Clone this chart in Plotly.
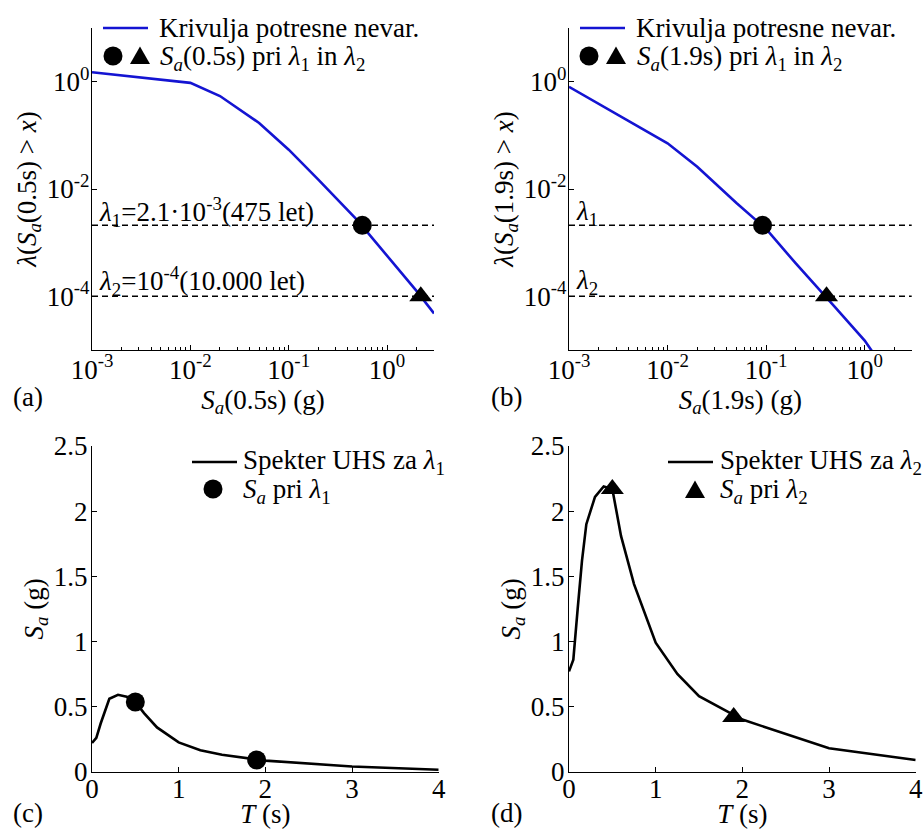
import plotly.graph_objects as go

W, H = 923, 829
FONT = "Liberation Serif"
FS = 27
BLUE = "#1414d2"

# ---------------- data ----------------
# (a) hazard curve for Sa(0.5s)
haz_a_sa = [0.001, 0.01, 0.02, 0.05, 0.1, 0.2, 0.5, 1.0, 2.0, 3.0]
haz_a_lam = [1.5, 0.95, 0.54, 0.17, 0.054, 0.015, 2.6e-3, 5.7e-4, 1.25e-4, 4.8e-5]
pts_a_sa = [0.56, 2.2]
# (b) hazard curve for Sa(1.9s)
haz_b_sa = [0.001, 0.01, 0.02, 0.05, 0.1, 0.2, 0.5, 1.0, 1.5]
haz_b_lam = [0.8, 0.071, 0.026, 5.5e-3, 1.8e-3, 4.1e-4, 6.3e-5, 1.5e-5, 5.1e-6]
pts_b_sa = [0.092, 0.41]
# hazard levels
lam_levels = [2.1e-3, 1e-4]
# (c), (d) uniform hazard spectra
T = [0, 0.05, 0.1, 0.15, 0.2, 0.3, 0.4, 0.5, 0.6, 0.75, 1.0, 1.25, 1.5, 2.0, 3.0, 4.0]
uhs_1 = [0.22, 0.26, 0.37, 0.47, 0.56, 0.59, 0.575, 0.535, 0.45, 0.34, 0.225, 0.165, 0.13, 0.085, 0.04, 0.015]
uhs_2 = [0.77, 0.86, 1.25, 1.62, 1.9, 2.11, 2.19, 2.17, 1.81, 1.44, 0.99, 0.75, 0.58, 0.40, 0.18, 0.09]
pts_T = [0.5, 1.9]
pts_c_sa = [0.535, 0.09]
pts_d_sa = [2.17, 0.42]

log_xticks = [1e-3, 1e-2, 1e-1, 1]
log_xtext = ["10<sup>-3</sup>", "10<sup>-2</sup>", "10<sup>-1</sup>", "10<sup>0</sup>"]
log_xminor = [m * d for d in (1e-3, 1e-2, 1e-1, 1) for m in range(2, 10)]
log_yticks = [1e-4, 1e-2, 1]
log_ytext = ["10<sup>-4</sup>", "10<sup>-2</sup>", "10<sup>0</sup>"]
lin_xticks = [0, 1, 2, 3, 4]
lin_yticks = [0, 0.5, 1, 1.5, 2, 2.5]
lin_ytext = ["0", "0.5", "1", "1.5", "2", "2.5"]


def px(x):
    return x / W


def py(y):
    return 1 - y / H


fig = go.Figure()

# (a)
fig.add_trace(go.Scatter(x=haz_a_sa, y=haz_a_lam, mode="lines", line=dict(color=BLUE, width=2.6),
                         xaxis="x", yaxis="y", showlegend=False))
fig.add_trace(go.Scatter(x=pts_a_sa[:1], y=lam_levels[:1], mode="markers",
                         marker=dict(symbol="circle", size=19, color="black"),
                         xaxis="x", yaxis="y", showlegend=False, cliponaxis=False))
fig.add_trace(go.Scatter(x=pts_a_sa[1:], y=lam_levels[1:], mode="markers",
                         marker=dict(symbol="triangle-up", size=20, color="black"),
                         xaxis="x", yaxis="y", showlegend=False, cliponaxis=False))
# (b)
fig.add_trace(go.Scatter(x=haz_b_sa, y=haz_b_lam, mode="lines", line=dict(color=BLUE, width=2.6),
                         xaxis="x2", yaxis="y2", showlegend=False))
fig.add_trace(go.Scatter(x=pts_b_sa[:1], y=lam_levels[:1], mode="markers",
                         marker=dict(symbol="circle", size=19, color="black"),
                         xaxis="x2", yaxis="y2", showlegend=False, cliponaxis=False))
fig.add_trace(go.Scatter(x=pts_b_sa[1:], y=lam_levels[1:], mode="markers",
                         marker=dict(symbol="triangle-up", size=20, color="black"),
                         xaxis="x2", yaxis="y2", showlegend=False, cliponaxis=False))
# (c)
fig.add_trace(go.Scatter(x=T, y=uhs_1, mode="lines", line=dict(color="black", width=2.6),
                         xaxis="x3", yaxis="y3", showlegend=False))
fig.add_trace(go.Scatter(x=pts_T, y=pts_c_sa, mode="markers",
                         marker=dict(symbol="circle", size=19, color="black"),
                         xaxis="x3", yaxis="y3", showlegend=False, cliponaxis=False))
# (d)
fig.add_trace(go.Scatter(x=T, y=uhs_2, mode="lines", line=dict(color="black", width=2.6),
                         xaxis="x4", yaxis="y4", showlegend=False))
fig.add_trace(go.Scatter(x=pts_T, y=pts_d_sa, mode="markers",
                         marker=dict(symbol="triangle-up", size=20, color="black"),
                         xaxis="x4", yaxis="y4", showlegend=False, cliponaxis=False))

tickfont = dict(family=FONT, size=FS, color="black")
common = dict(showline=True, linecolor="black", linewidth=1.3, mirror=False, showgrid=False,
              zeroline=False, ticks="inside", ticklen=5, tickwidth=1, tickcolor="black",
              tickfont=tickfont, automargin=False)

dom_top = [py(350), py(28)]
dom_bot = [py(771.7), py(446)]

logx = dict(type="log", range=[-3, 0.477], tickvals=log_xticks, ticktext=log_xtext, ticklabelstandoff=-5,
            minor=dict(tickmode="array", tickvals=log_xminor, ticks="inside", ticklen=3,
                       tickcolor="black", tickwidth=1, showgrid=False), **common)
logy = dict(type="log", range=[-5, 1], tickvals=log_yticks, ticktext=log_ytext, ticklabelstandoff=-4, **common)
linx = dict(range=[0, 4], tickvals=lin_xticks, ticklabelstandoff=-7, **common)
liny = dict(range=[0, 2.5], tickvals=lin_yticks, ticktext=lin_ytext, ticklabelstandoff=-2, **common)

tfont = dict(family=FONT, size=FS, color="black")
fig.update_layout(
    template="none",
    xaxis=dict(domain=[px(92), px(434)], anchor="y",
               title=dict(text="<i>S<sub>a</sub></i>(0.5s) (g)", font=tfont, standoff=0), **logx),
    yaxis=dict(domain=dom_top, anchor="x",
               title=dict(text="<i>λ</i>(<i>S<sub>a</sub></i>(0.5s) &gt; <i>x</i>)", font=tfont, standoff=2), **logy),
    xaxis2=dict(domain=[px(569), px(911.7)], anchor="y2",
                title=dict(text="<i>S<sub>a</sub></i>(1.9s) (g)", font=tfont, standoff=0), **logx),
    yaxis2=dict(domain=dom_top, anchor="x2",
                title=dict(text="<i>λ</i>(<i>S<sub>a</sub></i>(1.9s) &gt; <i>x</i>)", font=tfont, standoff=2), **logy),
    xaxis3=dict(domain=[px(92), px(438.7)], anchor="y3",
                title=dict(text="<i>T</i> (s)", font=tfont, standoff=12), **linx),
    yaxis3=dict(domain=dom_bot, anchor="x3",
                title=dict(text="<i>S<sub>a</sub></i> (g)", font=tfont, standoff=2), **liny),
    xaxis4=dict(domain=[px(569), px(915.7)], anchor="y4",
                title=dict(text="<i>T</i> (s)", font=tfont, standoff=12), **linx),
    yaxis4=dict(domain=dom_bot, anchor="x4",
                title=dict(text="<i>S<sub>a</sub></i> (g)", font=tfont, standoff=2), **liny),
    width=W, height=H, margin=dict(l=0, r=0, t=0, b=0, autoexpand=False),
    paper_bgcolor="white", plot_bgcolor="white",
    font=dict(family=FONT, size=FS, color="black"),
)

shapes = []
# dashed hazard levels in (a) and (b)
for xr, yr in (("x domain", "y"), ("x2 domain", "y2")):
    for lv in lam_levels:
        shapes.append(dict(type="line", xref=xr, yref=yr, x0=0, x1=1, y0=lv, y1=lv,
                           line=dict(color="black", width=1.5, dash="6px,4px"), layer="below"))


def leg_line(x0, x1, y, color):
    shapes.append(dict(type="line", xref="paper", yref="paper", x0=px(x0), x1=px(x1), y0=py(y), y1=py(y),
                       line=dict(color=color, width=2.6)))


def leg_circle(x, y, r=9.5):
    shapes.append(dict(type="circle", xref="paper", yref="paper", xsizemode="pixel", ysizemode="pixel",
                       xanchor=px(x), yanchor=py(y), x0=-r, x1=r, y0=-r, y1=r,
                       fillcolor="black", line=dict(color="black", width=0)))


def leg_tri(x, y, s=10):
    shapes.append(dict(type="path", xref="paper", yref="paper", xsizemode="pixel", ysizemode="pixel",
                       xanchor=px(x), yanchor=py(y),
                       path=f"M {-s} {-0.8*s} L {s} {-0.8*s} L 0 {0.95*s} Z",
                       fillcolor="black", line=dict(color="black", width=0)))


leg_line(103, 148, 28, BLUE)
leg_circle(113, 56)
leg_tri(140, 56)
leg_line(580, 625, 28, BLUE)
leg_circle(589, 56)
leg_tri(616, 56)
leg_line(192, 237, 462, "black")
leg_circle(213, 489)
leg_line(668, 713, 462, "black")
leg_tri(695, 490)
fig.update_layout(shapes=shapes)

ann = []


def text(x, y, s, xanchor="left", size=FS):
    ann.append(dict(x=px(x), y=py(y), xref="paper", yref="paper", text=s, showarrow=False,
                    xanchor=xanchor, yanchor="middle", font=dict(family=FONT, size=size, color="black")))


text(157, 28, "Krivulja potresne nevar.")
text(158, 58, "<i>S<sub>a</sub></i>(0.5s) pri <i>λ</i><sub>1</sub> in <i>λ</i><sub>2</sub>")
text(634, 28, "Krivulja potresne nevar.")
text(635, 58, "<i>S<sub>a</sub></i>(1.9s) pri <i>λ</i><sub>1</sub> in <i>λ</i><sub>2</sub>")
text(241, 462, "Spekter UHS za <i>λ</i><sub>1</sub>")
text(241, 491, "<i>S<sub>a</sub></i> pri <i>λ</i><sub>1</sub>")
text(718, 462, "Spekter UHS za <i>λ</i><sub>2</sub>")
text(718, 491, "<i>S<sub>a</sub></i> pri <i>λ</i><sub>2</sub>")
text(97, 212, "<i>λ</i><sub>1</sub>=2.1·10<sup>-3</sup>(475 let)")
text(97, 281, "<i>λ</i><sub>2</sub>=10<sup>-4</sup>(10.000 let)")
text(574, 213, "<i>λ</i><sub>1</sub>")
text(574, 282, "<i>λ</i><sub>2</sub>")
text(11, 397, "(a)")
text(489, 397, "(b)")
text(11, 813, "(c)")
text(489, 813, "(d)")
fig.update_layout(annotations=ann)

fig.write_html("out.html", config={"displayModeBar": False},
               post_script="document.body.style.margin='0px';document.body.style.padding='0px';")
